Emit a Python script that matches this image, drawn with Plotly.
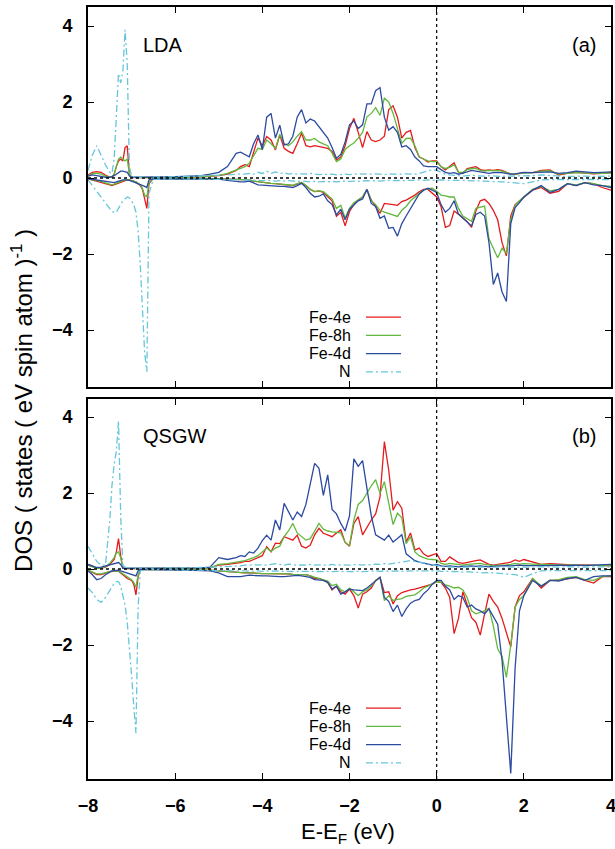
import plotly.graph_objects as go

# ---------------- data ----------------
energy = ([-8.0, -7.9, -7.8, -7.7, -7.6, -7.5, -7.45, -7.4, -7.35, -7.3, -7.25, -7.2,
           -7.15, -7.1, -7.05, -7.0, -6.95, -6.9, -6.85, -6.8, -6.75, -6.7, -6.65, -6.6,
           -6.5, -6.2, -5.8, -5.4, -5.2, -5.0, -4.8, -4.6]
          + [-4.5, -4.4, -4.3, -4.2, -4.1, -4.0, -3.9, -3.8, -3.7, -3.6,
             -3.5, -3.4, -3.3, -3.2, -3.1, -3.0, -2.9, -2.8, -2.7, -2.6,
             -2.5, -2.4, -2.3, -2.2, -2.1, -2.0, -1.9, -1.8, -1.7, -1.6,
             -1.5, -1.4, -1.3, -1.2, -1.1, -1.0, -0.9, -0.8, -0.7, -0.6,
             -0.5, -0.4, -0.3, -0.2, -0.1, 0.0, 0.1, 0.2, 0.3, 0.4,
             0.5, 0.6, 0.7, 0.8, 0.9, 1.0, 1.1, 1.2, 1.3, 1.4,
             1.5, 1.6, 1.7, 1.8, 1.9, 2.0]
          + [2.2, 2.4, 2.6, 2.8, 3.0, 3.2, 3.4, 3.6, 3.8, 4.0])

# ---- LDA ----
lda_4e_up = ([0.08, 0.15, 0.17, 0.15, 0.08, 0.02, 0.02, 0.10, 0.30, 0.45, 0.50, 0.45, 0.80, 0.85, 0.10, 0.02,
              0.01, 0.01, 0.01, 0.01, 0.01, 0.01, 0.01, 0.01, 0.01, 0.02, 0.02, 0.03, 0.04, 0.06, 0.10, 0.20]
             + [0.30, 0.35, 0.30, 0.65, 1.05, 0.85, 1.09, 1.00, 0.74, 1.13,
                0.78, 0.70, 0.65, 0.90, 1.18, 0.85, 0.82, 0.85, 0.82, 0.80,
                0.78, 0.70, 0.47, 0.55, 0.85, 1.30, 1.57, 1.20, 0.80, 1.22,
                1.00, 0.96, 1.00, 1.10, 1.80, 1.90, 1.60, 1.05, 1.20, 1.25,
                0.80, 0.55, 0.50, 0.42, 0.45, 0.45, 0.30, 0.21, 0.30, 0.40,
                0.15, 0.12, 0.25, 0.28, 0.30, 0.22, 0.20, 0.21, 0.20, 0.22,
                0.20, 0.15, 0.10, 0.10, 0.12, 0.14]
             + [0.14, 0.20, 0.21, 0.08, 0.12, 0.15, 0.13, 0.11, 0.12, 0.15])
lda_8h_up = ([0.05, 0.12, 0.12, 0.10, 0.05, 0.02, 0.03, 0.10, 0.30, 0.50, 0.55, 0.50, 0.45, 0.50, 0.10, 0.02,
              0.01, 0.01, 0.01, 0.01, 0.01, 0.01, 0.01, 0.01, 0.01, 0.02, 0.02, 0.03, 0.05, 0.07, 0.12, 0.22]
             + [0.25, 0.30, 0.39, 0.60, 0.78, 0.75, 1.00, 0.90, 0.78, 1.15,
                0.90, 0.85, 0.95, 1.10, 1.22, 1.00, 1.00, 1.04, 0.95, 0.90,
                0.85, 0.65, 0.43, 0.50, 0.75, 0.85, 0.92, 1.05, 1.20, 1.61,
                1.70, 1.85, 1.65, 2.10, 2.00, 1.70, 1.30, 0.91, 1.04, 1.05,
                0.85, 0.56, 0.50, 0.45, 0.43, 0.43, 0.30, 0.25, 0.28, 0.35,
                0.15, 0.15, 0.22, 0.25, 0.25, 0.20, 0.18, 0.20, 0.19, 0.20,
                0.18, 0.14, 0.11, 0.10, 0.12, 0.13]
             + [0.14, 0.18, 0.19, 0.10, 0.12, 0.14, 0.13, 0.12, 0.12, 0.13])
lda_4d_up = ([0.05, 0.08, 0.06, 0.03, 0.02, 0.02, 0.03, 0.06, 0.10, 0.15, 0.18, 0.18, 0.16, 0.15, 0.05, 0.02,
              0.02, 0.02, 0.02, 0.02, 0.02, 0.02, 0.02, 0.02, 0.02, 0.03, 0.04, 0.06, 0.10, 0.15, 0.30, 0.65]
             + [0.68, 0.62, 0.56, 0.90, 1.13, 0.75, 1.60, 1.70, 1.05, 1.39,
                0.87, 0.90, 1.10, 1.60, 1.80, 1.45, 1.55, 1.50, 1.35, 1.20,
                1.05, 0.80, 0.52, 0.62, 0.95, 1.40, 1.50, 1.30, 1.40, 1.95,
                1.95, 2.30, 2.38, 1.60, 1.26, 1.35, 1.20, 0.82, 0.85, 0.75,
                0.55, 0.45, 0.32, 0.30, 0.30, 0.30, 0.22, 0.15, 0.12, 0.14,
                0.10, 0.12, 0.16, 0.20, 0.18, 0.15, 0.13, 0.12, 0.14, 0.15,
                0.14, 0.12, 0.10, 0.11, 0.13, 0.15]
             + [0.14, 0.15, 0.16, 0.12, 0.14, 0.18, 0.16, 0.14, 0.15, 0.16])
lda_n_up = ([0.20, 0.60, 0.85, 0.60, 0.35, 0.15, 0.12, 0.50, 1.80, 2.75, 2.50, 2.80, 3.90, 3.00, 0.30, 0.05,
             0.03, 0.02, 0.02, 0.02, 0.02, 0.02, 0.02, 0.02, 0.03, 0.03, 0.04, 0.05, 0.06, 0.07, 0.08, 0.10]
            + [0.10, 0.10, 0.12, 0.10, 0.15, 0.12, 0.18, 0.12, 0.16, 0.12,
               0.14, 0.10, 0.12, 0.10, 0.11, 0.10, 0.12, 0.10, 0.09, 0.10,
               0.09, 0.10, 0.08, 0.09, 0.10, 0.09, 0.10, 0.11, 0.10, 0.11,
               0.10, 0.11, 0.10, 0.09, 0.10, 0.10, 0.09, 0.10, 0.11, 0.10,
               0.10, 0.12, 0.15, 0.18, 0.22, 0.20, 0.14, 0.10, 0.08, 0.06,
               0.06, 0.05, 0.06, 0.07, 0.06, 0.05, 0.05, 0.06, 0.05, 0.05,
               0.04, 0.05, 0.05, 0.06, 0.05, 0.05]
            + [0.06, 0.08, 0.06, 0.05, 0.04, 0.05, 0.05, 0.04, 0.05, 0.05])
lda_4e_dn = ([-0.02, -0.05, -0.08, -0.10, -0.15, -0.18, -0.20, -0.18, -0.15, -0.12, -0.10, -0.08, -0.06, -0.05, -0.05, -0.06,
              -0.08, -0.10, -0.15, -0.20, -0.30, -0.55, -0.80, -0.15, -0.01, -0.01, -0.01, -0.01, -0.01, -0.02, -0.03, -0.04]
             + [-0.04, -0.05, -0.05, -0.08, -0.10, -0.12, -0.13, -0.14, -0.15, -0.16,
                -0.17, -0.18, -0.20, -0.16, -0.12, -0.20, -0.30, -0.36, -0.34, -0.38,
                -0.50, -0.60, -1.01, -0.90, -1.26, -0.88, -0.70, -0.58, -0.50, -0.30,
                -0.58, -0.75, -0.93, -0.67, -0.68, -0.70, -0.72, -0.62, -0.58, -0.52,
                -0.45, -0.36, -0.30, -0.30, -0.40, -0.50, -0.75, -1.30, -1.25, -0.87,
                -0.95, -1.05, -1.15, -1.30, -0.87, -0.60, -0.56, -0.67, -0.85, -1.10,
                -1.70, -2.05, -1.00, -0.70, -0.60, -0.50]
             + [-0.32, -0.25, -0.40, -0.35, -0.15, -0.20, -0.12, -0.15, -0.25, -0.32])
lda_8h_dn = ([-0.02, -0.04, -0.07, -0.09, -0.13, -0.16, -0.18, -0.16, -0.13, -0.10, -0.09, -0.07, -0.05, -0.05, -0.05, -0.06,
              -0.08, -0.10, -0.14, -0.18, -0.28, -0.45, -0.50, -0.12, -0.01, -0.01, -0.01, -0.01, -0.01, -0.02, -0.03, -0.04]
             + [-0.04, -0.05, -0.05, -0.08, -0.10, -0.12, -0.13, -0.14, -0.15, -0.16,
                -0.17, -0.18, -0.19, -0.15, -0.12, -0.20, -0.30, -0.36, -0.34, -0.36,
                -0.45, -0.55, -0.80, -0.72, -1.05, -0.80, -0.65, -0.58, -0.50, -0.30,
                -0.60, -0.70, -0.85, -0.90, -0.93, -0.97, -1.01, -0.85, -0.75, -0.60,
                -0.50, -0.40, -0.32, -0.28, -0.27, -0.35, -0.45, -0.47, -0.50, -0.50,
                -0.80, -1.00, -1.08, -1.14, -0.80, -0.76, -0.74, -1.60, -1.86, -2.10,
                -1.85, -1.98, -1.10, -0.72, -0.60, -0.50]
             + [-0.30, -0.22, -0.34, -0.30, -0.15, -0.18, -0.12, -0.15, -0.20, -0.22])
lda_4d_dn = ([-0.02, -0.04, -0.05, -0.06, -0.08, -0.10, -0.12, -0.12, -0.10, -0.08, -0.06, -0.05, -0.05, -0.05, -0.06, -0.08,
              -0.10, -0.12, -0.15, -0.18, -0.20, -0.22, -0.25, -0.05, -0.02, -0.02, -0.02, -0.02, -0.02, -0.03, -0.06, -0.10]
             + [-0.10, -0.10, -0.08, -0.13, -0.18, -0.19, -0.20, -0.21, -0.21, -0.22,
                -0.22, -0.23, -0.25, -0.20, -0.14, -0.25, -0.40, -0.50, -0.48, -0.42,
                -0.60, -0.70, -0.97, -0.82, -1.10, -0.82, -0.70, -0.60, -0.55, -0.30,
                -0.67, -0.75, -1.06, -1.00, -1.32, -1.30, -1.53, -1.20, -1.00, -0.80,
                -0.60, -0.42, -0.32, -0.27, -0.32, -0.38, -0.70, -0.90, -0.80, -0.60,
                -0.95, -1.05, -1.15, -1.26, -0.96, -0.90, -1.00, -1.70, -2.80, -2.50,
                -3.00, -3.25, -1.20, -0.78, -0.65, -0.50]
             + [-0.32, -0.20, -0.38, -0.30, -0.15, -0.20, -0.12, -0.18, -0.20, -0.25])
lda_n_dn = ([-0.05, -0.20, -0.35, -0.50, -0.65, -0.80, -0.88, -0.90, -0.91, -0.80, -0.70, -0.60, -0.55, -0.50, -0.52, -0.60,
             -0.70, -0.90, -1.40, -2.30, -3.40, -4.60, -5.10, -0.40, -0.03, -0.02, -0.02, -0.03, -0.03, -0.04, -0.04, -0.05]
            + [-0.05, -0.05, -0.06, -0.05, -0.06, -0.07, -0.06, -0.07, -0.08, -0.07,
               -0.08, -0.07, -0.08, -0.09, -0.08, -0.09, -0.10, -0.09, -0.10, -0.09,
               -0.10, -0.09, -0.10, -0.09, -0.08, -0.09, -0.08, -0.09, -0.08, -0.07,
               -0.08, -0.07, -0.08, -0.07, -0.06, -0.07, -0.06, -0.07, -0.06, -0.06,
               -0.06, -0.05, -0.06, -0.05, -0.06, -0.05, -0.05, -0.06, -0.06, -0.05,
               -0.06, -0.06, -0.07, -0.07, -0.08, -0.08, -0.08, -0.09, -0.09, -0.10,
               -0.10, -0.11, -0.12, -0.12, -0.14, -0.15]
            + [-0.10, -0.05, -0.04, -0.04, -0.05, -0.04, -0.04, -0.05, -0.04, -0.04])

# ---- QSGW ----
qsgw_4e_up = ([0.12, 0.08, 0.03, 0.02, 0.05, 0.12, 0.18, 0.25, 0.45, 0.80, 0.35, 0.02,
               0.01, 0.01, 0.01, 0.01, 0.01, 0.01, 0.01, 0.01, 0.01, 0.01, 0.01, 0.01, 0.01, 0.01,
               0.02, 0.02, 0.03, 0.10, 0.12, 0.15]
              + [0.17, 0.20, 0.20, 0.25, 0.30, 0.35, 0.59, 0.45, 0.68, 0.67,
                 0.85, 0.80, 0.76, 0.89, 0.60, 0.55, 0.63, 0.90, 1.07, 0.94,
                 0.90, 0.85, 0.95, 1.03, 0.70, 0.60, 1.20, 1.38, 0.90, 1.10,
                 1.29, 1.45, 1.90, 3.35, 2.60, 1.55, 1.77, 1.60, 0.71, 0.95,
                 0.50, 0.55, 0.40, 0.33, 0.38, 0.41, 0.20, 0.20, 0.32, 0.25,
                 0.17, 0.15, 0.18, 0.20, 0.22, 0.24, 0.18, 0.12, 0.10, 0.12,
                 0.13, 0.15, 0.18, 0.24, 0.20, 0.25]
              + [0.18, 0.12, 0.14, 0.13, 0.12, 0.10, 0.11, 0.10, 0.09, 0.08])
qsgw_8h_up = ([0.10, 0.06, 0.02, 0.02, 0.06, 0.15, 0.22, 0.30, 0.42, 0.45, 0.30, 0.02,
               0.01, 0.01, 0.01, 0.01, 0.01, 0.01, 0.01, 0.01, 0.01, 0.01, 0.01, 0.01, 0.01, 0.01,
               0.02, 0.02, 0.03, 0.12, 0.14, 0.17]
              + [0.20, 0.22, 0.25, 0.30, 0.35, 0.45, 0.55, 0.46, 0.55, 0.60,
                 0.85, 1.00, 1.20, 0.95, 0.85, 0.76, 0.80, 1.00, 1.20, 1.05,
                 1.00, 0.98, 0.97, 0.95, 0.70, 0.62, 1.29, 1.70, 1.80, 2.00,
                 2.19, 2.35, 1.99, 2.30, 1.73, 1.17, 1.47, 1.35, 0.67, 0.85,
                 0.45, 0.35, 0.30, 0.26, 0.25, 0.24, 0.15, 0.12, 0.15, 0.13,
                 0.12, 0.10, 0.12, 0.13, 0.14, 0.15, 0.12, 0.10, 0.09, 0.10,
                 0.10, 0.11, 0.12, 0.15, 0.13, 0.14]
              + [0.13, 0.12, 0.12, 0.11, 0.10, 0.10, 0.10, 0.09, 0.09, 0.09])
qsgw_4d_up = ([0.12, 0.08, 0.04, 0.05, 0.08, 0.12, 0.14, 0.16, 0.17, 0.17, 0.12, 0.02,
               0.02, 0.02, 0.02, 0.02, 0.02, 0.02, 0.02, 0.02, 0.02, 0.02, 0.02, 0.02, 0.02, 0.02,
               0.02, 0.03, 0.05, 0.30, 0.25, 0.30]
              + [0.35, 0.33, 0.45, 0.42, 0.55, 0.75, 0.89, 0.76, 1.29, 1.03,
                 1.73, 1.50, 1.29, 1.50, 1.38, 1.70, 2.20, 2.78, 2.65, 1.94,
                 2.48, 1.57, 1.45, 1.20, 1.00, 1.40, 2.90, 2.70, 2.85, 2.10,
                 1.40, 0.90, 0.82, 0.76, 0.89, 0.71, 0.80, 0.90, 0.40, 0.30,
                 0.22, 0.18, 0.15, 0.12, 0.10, 0.12, 0.08, 0.07, 0.08, 0.07,
                 0.06, 0.07, 0.08, 0.08, 0.07, 0.08, 0.07, 0.06, 0.07, 0.08,
                 0.08, 0.09, 0.08, 0.09, 0.10, 0.09]
              + [0.09, 0.08, 0.09, 0.10, 0.09, 0.10, 0.09, 0.10, 0.11, 0.12])
qsgw_n_up = ([0.60, 0.40, 0.20, 0.10, 0.10, 1.30, 2.20, 2.75, 3.10, 3.90, 1.40, 0.10,
              0.05, 0.03, 0.02, 0.02, 0.02, 0.02, 0.02, 0.02, 0.02, 0.02, 0.02, 0.02, 0.02, 0.02,
              0.03, 0.04, 0.05, 0.05, 0.06, 0.08]
             + [0.08, 0.10, 0.10, 0.12, 0.10, 0.12, 0.10, 0.12, 0.14, 0.12,
                0.10, 0.13, 0.12, 0.10, 0.11, 0.10, 0.12, 0.10, 0.11, 0.10,
                0.10, 0.12, 0.10, 0.11, 0.10, 0.10, 0.11, 0.12, 0.10, 0.12,
                0.11, 0.13, 0.12, 0.14, 0.13, 0.15, 0.16, 0.18, 0.20, 0.22,
                0.20, 0.18, 0.15, 0.12, 0.10, 0.08, 0.06, 0.05, 0.05, 0.05,
                0.05, 0.05, 0.04, 0.05, 0.05, 0.04, 0.05, 0.05, 0.04, 0.05,
                0.05, 0.04, 0.05, 0.05, 0.04, 0.05]
             + [0.05, 0.06, 0.05, 0.05, 0.06, 0.05, 0.05, 0.06, 0.05, 0.05])
qsgw_4e_dn = ([-0.03, -0.08, -0.15, -0.15, -0.10, -0.07, -0.06, -0.05, -0.05, -0.06, -0.10, -0.15, -0.20, -0.25, -0.28, -0.30,
               -0.40, -0.68, -0.20, -0.02, -0.01, -0.01, -0.01, -0.01, -0.01, -0.02, -0.02, -0.03, -0.03, -0.05, -0.07, -0.08]
              + [-0.10, -0.10, -0.10, -0.11, -0.11, -0.12, -0.12, -0.12, -0.13, -0.13,
                 -0.13, -0.13, -0.14, -0.14, -0.14, -0.15, -0.18, -0.25, -0.25, -0.30,
                 -0.35, -0.55, -0.45, -0.60, -0.66, -0.53, -0.70, -1.03, -0.66, -0.60,
                 -0.50, -0.30, -0.22, -0.62, -0.60, -0.92, -0.70, -0.62, -0.58, -0.55,
                 -0.53, -0.50, -0.47, -0.45, -0.40, -0.33, -0.35, -0.50, -0.75, -1.70,
                 -1.30, -0.60, -0.95, -1.28, -1.40, -1.74, -1.18, -0.66, -0.85, -1.00,
                 -1.30, -1.70, -2.05, -1.00, -0.70, -0.60]
              + [-0.25, -0.50, -0.30, -0.30, -0.25, -0.22, -0.30, -0.37, -0.20, -0.20])
qsgw_8h_dn = ([-0.03, -0.07, -0.13, -0.13, -0.09, -0.06, -0.05, -0.05, -0.05, -0.06, -0.09, -0.13, -0.18, -0.22, -0.25, -0.28,
               -0.35, -0.48, -0.15, -0.02, -0.01, -0.01, -0.01, -0.01, -0.01, -0.02, -0.02, -0.03, -0.03, -0.05, -0.07, -0.08]
              + [-0.10, -0.10, -0.10, -0.11, -0.11, -0.12, -0.12, -0.12, -0.13, -0.13,
                 -0.13, -0.13, -0.14, -0.14, -0.14, -0.15, -0.18, -0.22, -0.24, -0.28,
                 -0.32, -0.44, -0.40, -0.55, -0.60, -0.50, -0.60, -0.70, -0.60, -0.55,
                 -0.45, -0.30, -0.22, -0.83, -0.70, -0.83, -0.80, -0.78, -0.72, -0.70,
                 -0.68, -0.60, -0.50, -0.45, -0.38, -0.33, -0.35, -0.42, -0.45, -0.50,
                 -0.48, -0.55, -0.75, -1.10, -1.18, -1.15, -1.10, -1.03, -1.50, -2.10,
                 -2.30, -2.85, -2.00, -1.00, -0.80, -0.70]
              + [-0.25, -0.45, -0.30, -0.28, -0.22, -0.20, -0.28, -0.30, -0.20, -0.18])
qsgw_4d_dn = ([-0.05, -0.15, -0.28, -0.25, -0.15, -0.08, -0.05, -0.04, -0.03, -0.03, -0.05, -0.07, -0.09, -0.11, -0.13, -0.15,
               -0.17, -0.18, -0.05, -0.01, -0.01, -0.01, -0.01, -0.01, -0.01, -0.02, -0.03, -0.04, -0.05, -0.10, -0.20, -0.20]
              + [-0.20, -0.18, -0.16, -0.17, -0.18, -0.18, -0.18, -0.19, -0.19, -0.20,
                 -0.20, -0.19, -0.18, -0.17, -0.18, -0.20, -0.22, -0.28, -0.30, -0.30,
                 -0.35, -0.53, -0.45, -0.66, -0.60, -0.53, -0.55, -0.56, -0.57, -0.50,
                 -0.40, -0.30, -0.22, -0.75, -0.85, -1.12, -0.95, -1.25, -1.05, -0.90,
                 -0.83, -0.80, -0.65, -0.55, -0.40, -0.30, -0.30, -0.45, -0.55, -0.80,
                 -0.70, -0.75, -1.00, -0.95, -1.05, -1.10, -1.18, -1.05, -1.25, -1.45,
                 -2.40, -3.80, -5.38, -2.60, -1.10, -0.70]
              + [-0.30, -0.45, -0.30, -0.32, -0.25, -0.22, -0.30, -0.20, -0.18, -0.18])
qsgw_n_dn = ([-0.50, -0.62, -0.80, -0.88, -0.75, -0.55, -0.45, -0.38, -0.33, -0.33, -0.45, -0.70, -0.95, -1.40, -2.00, -2.80,
              -3.60, -4.32, -1.00, -0.05, -0.03, -0.02, -0.02, -0.02, -0.02, -0.02, -0.03, -0.03, -0.04, -0.04, -0.05, -0.05]
             + [-0.05, -0.05, -0.06, -0.05, -0.05, -0.06, -0.05, -0.06, -0.05, -0.06,
                -0.06, -0.05, -0.06, -0.06, -0.05, -0.06, -0.06, -0.07, -0.06, -0.07,
                -0.06, -0.07, -0.06, -0.07, -0.06, -0.07, -0.06, -0.06, -0.07, -0.06,
                -0.06, -0.05, -0.06, -0.05, -0.06, -0.05, -0.05, -0.06, -0.05, -0.05,
                -0.05, -0.05, -0.04, -0.05, -0.05, -0.05, -0.06, -0.06, -0.07, -0.07,
                -0.07, -0.08, -0.07, -0.08, -0.09, -0.10, -0.10, -0.09, -0.10, -0.11,
                -0.12, -0.12, -0.13, -0.15, -0.18, -0.22]
             + [-0.12, -0.05, -0.04, -0.04, -0.05, -0.04, -0.04, -0.05, -0.04, -0.04])

series_names = ["Fe-4e", "Fe-8h", "Fe-4d", "N"]
panel_labels = ["LDA", "QSGW"]
panel_tags = ["(a)", "(b)"]
x_ticks = [-8, -6, -4, -2, 0, 2, 4]
y_ticks = [-4, -2, 0, 2, 4]

lda = [(lda_4e_up, lda_4e_dn), (lda_8h_up, lda_8h_dn), (lda_4d_up, lda_4d_dn), (lda_n_up, lda_n_dn)]
qsgw = [(qsgw_4e_up, qsgw_4e_dn), (qsgw_8h_up, qsgw_8h_dn), (qsgw_4d_up, qsgw_4d_dn), (qsgw_n_up, qsgw_n_dn)]
for grp in (lda, qsgw):
    for u, d in grp:
        assert len(u) == len(energy) and len(d) == len(energy)

# ---------------- style ----------------
colors = ["#e41a1c", "#62b83c", "#2b4aa0", "#66c6da"]
dashes = ["solid", "solid", "solid", "7px,3px,2px,3px"]
FONT = "Liberation Sans, Arial, Helvetica, sans-serif"

fig = go.Figure()
for p, (grp, xa, ya) in enumerate([(lda, "x", "y"), (qsgw, "x2", "y2")]):
    for k, (u, d) in enumerate(grp):
        for vals in (u, d):
            fig.add_trace(go.Scatter(
                x=energy, y=vals, mode="lines", xaxis=xa, yaxis=ya,
                line=dict(color=colors[k], width=1.3, dash=dashes[k]),
                showlegend=False, hoverinfo="skip"))

axis_common = dict(showline=True, linecolor="black", linewidth=1.6, mirror="ticks",
                   ticks="inside", ticklen=6, tickwidth=1.4, tickcolor="black",
                   showgrid=False, zeroline=False, automargin=False,
                   ticklabeloverflow="allow",
                   tickfont=dict(family=FONT, size=18, color="black", weight="bold"))

top_dom = [1 - 380 / 772, 1.0]
bot_dom = [0.0, 380 / 772]

fig.update_layout(
    width=615, height=849,
    margin=dict(l=88, r=4, t=7, b=70, autoexpand=False),
    paper_bgcolor="white", plot_bgcolor="white",
    font=dict(family=FONT, color="black"),
    xaxis=dict(range=[-8, 4], domain=[0, 1], anchor="y", tickvals=x_ticks,
               showticklabels=False, **axis_common),
    yaxis=dict(range=[-5.5, 4.5], domain=top_dom, anchor="x", tickvals=y_ticks,
               ticklabelstandoff=10, **axis_common),
    xaxis2=dict(range=[-8, 4], domain=[0, 1], anchor="y2", tickvals=x_ticks,
                ticklabelstandoff=10, **axis_common),
    yaxis2=dict(range=[-5.526, 4.474], domain=bot_dom, anchor="x2", tickvals=y_ticks,
                ticklabelstandoff=10, **axis_common),
)

shapes = []
annotations = []
leg_y = [-3.66, -4.14, -4.62, -5.10]
for p, (xr, yr) in enumerate([("x", "y"), ("x2", "y2")]):
    # zero reference lines
    shapes.append(dict(type="line", xref=f"{xr} domain", yref=yr, x0=0, x1=1, y0=0, y1=0,
                       line=dict(color="black", width=1.4, dash="dot")))
    shapes.append(dict(type="line", xref=xr, yref=f"{yr} domain", x0=0, x1=0, y0=0, y1=1,
                       line=dict(color="black", width=1.2, dash="dot")))
    # legend (text then sample, like the original)
    for k, name in enumerate(series_names):
        annotations.append(dict(text=name, xref=f"{xr} domain", yref=yr,
                                x=0.5048, y=leg_y[k], xanchor="right", yanchor="middle",
                                showarrow=False, borderpad=0,
                                font=dict(family=FONT, size=16, color="black")))
        shapes.append(dict(type="line", xref=f"{xr} domain", yref=yr,
                           x0=0.5315, x1=0.5985, y0=leg_y[k], y1=leg_y[k],
                           line=dict(color=colors[k], width=1.3, dash=dashes[k])))
    annotations.append(dict(text=panel_labels[p], xref=f"{xr} domain", yref=yr,
                            x=0.1013, y=3.5, xanchor="left", yanchor="middle",
                            showarrow=False, font=dict(family=FONT, size=20, color="black")))
    annotations.append(dict(text=panel_tags[p], xref=f"{xr} domain", yref=yr,
                            x=0.975, y=3.5, xanchor="right", yanchor="middle",
                            showarrow=False, font=dict(family=FONT, size=20, color="black")))

annotations.append(dict(text="DOS ( states ( eV spin atom )<sup>-1</sup> )", textangle=-90,
                        xref="paper", yref="paper", x=-0.1262, y=0.491,
                        xanchor="center", yanchor="middle", showarrow=False,
                        font=dict(family=FONT, size=24, color="black")))
annotations.append(dict(text="E-E<sub>F</sub> (eV)", xref="paper", yref="paper",
                        x=0.497, y=-0.070, xanchor="center", yanchor="middle", showarrow=False,
                        font=dict(family=FONT, size=22, color="black")))

fig.update_layout(shapes=shapes, annotations=annotations)
# place the figure flush with the window corner (no default page margin), no toolbar
fig.write_html("out.html",
               config=dict(displayModeBar=False),
               post_script="document.body.style.margin='0';document.body.style.overflow='hidden';")
